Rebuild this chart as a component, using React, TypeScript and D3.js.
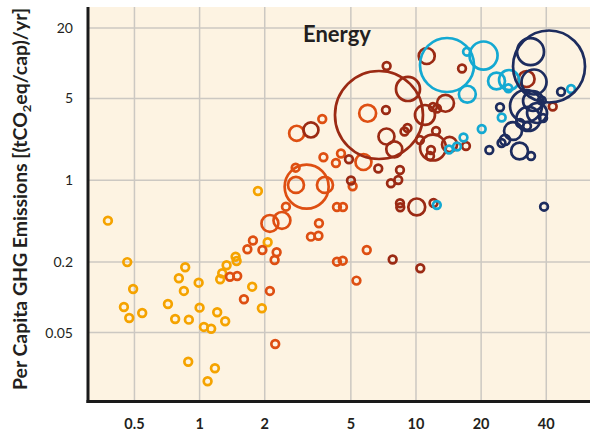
import React from "react";
import * as d3 from "d3";

// x: per-capita income-like axis (log), y: per capita GHG emissions (log)
const xTicks = [0.5, 1, 2, 5, 10, 20, 40];
const yTicks = [0.05, 0.2, 1, 5, 20];

const lowX = [0.377, 0.463, 0.493, 0.447, 0.473, 0.543, 0.714, 0.771, 0.802, 0.858, 0.846, 0.892, 0.886, 0.99, 1.0, 1.047, 1.131, 1.089, 1.177, 1.206, 1.313, 1.245, 1.272, 1.333, 1.467, 1.483, 1.75, 1.94, 2.063, 1.86];
const lowY = [0.452, 0.2, 0.118, 0.0828, 0.0667, 0.0736, 0.0878, 0.0654, 0.1456, 0.1807, 0.1135, 0.0645, 0.0282, 0.1335, 0.0817, 0.0559, 0.054, 0.0192, 0.0248, 0.0746, 0.0625, 0.1428, 0.1607, 0.188, 0.2226, 0.2046, 0.1234, 0.0807, 0.2955, 0.81];
const lowSize = [10, 10, 10, 10, 10, 10, 10, 10, 10, 10, 10, 10, 10, 10, 10, 10, 10, 10, 10, 10, 10, 10, 10, 10, 10, 10, 10, 10, 10, 10];

const lowerMidX = [3.124, 2.788, 3.796, 2.779, 2.506, 2.113, 2.402, 1.764, 1.663, 1.951, 2.27, 2.222, 1.381, 1.492, 1.603, 2.113, 2.236, 2.809, 3.688, 3.735, 4.266, 4.501, 5.718, 5.979, 5.097, 4.313, 4.598, 3.561, 3.27, 3.542, 5.922, 4.313, 4.588, 5.308];
const lowerMidY = [0.882, 0.912, 0.912, 1.281, 0.595, 0.428, 0.454, 0.306, 0.2575, 0.254, 0.2427, 0.2087, 0.15, 0.1523, 0.0963, 0.1135, 0.04, 2.52, 3.339, 1.572, 1.405, 1.694, 1.433, 3.734, 0.889, 0.5916, 0.5916, 0.4294, 0.33, 0.3357, 0.254, 0.2017, 0.2058, 0.139];
const lowerMidSize = [325, 43, 43, 10, 10, 48, 48, 10, 10, 10, 10, 10, 10, 10, 10, 10, 10, 38, 10, 10, 10, 10, 43, 48, 10, 10, 10, 10, 10, 10, 10, 10, 10, 10];

const upperMidX = [6.745, 7.318, 7.264, 3.27, 9.184, 11.0, 11.98, 12.5, 13.69, 7.303, 7.937, 8.849, 9.135, 10.43, 12.38, 11.98, 14.29, 17.02, 11.73, 6.694, 8.433, 7.661, 8.28, 4.9, 5.006, 8.433, 8.46, 10.08, 12.05, 7.803, 10.47, 11.21, 16.32, 32.43, 42.85, 11.61];
const upperMidY = [3.612, 9.465, 3.984, 2.689, 6.022, 3.612, 4.227, 4.104, 4.546, 2.366, 1.84, 2.61, 2.797, 2.209, 2.636, 1.905, 2.022, 1.963, 1.815, 1.261, 1.224, 0.943, 1.006, 1.511, 0.996, 0.636, 0.588, 0.5916, 0.64, 0.2107, 0.1772, 11.52, 9.01, 7.331, 4.268, 1.613];
const upperMidSize = [1300, 10, 10, 38, 97, 67, 10, 10, 48, 43, 43, 10, 10, 10, 10, 113, 38, 10, 10, 10, 10, 10, 10, 10, 10, 10, 10, 48, 10, 10, 10, 43, 10, 43, 10, 10];

const highAX = [13.91, 20.52, 17.21, 17.27, 23.56, 26.92, 26.72, 52.08, 24.9, 20.13, 16.58, 15.47, 14.21, 12.48];
const highAY = [9.652, 11.63, 12.54, 5.436, 7.047, 7.187, 6.106, 6.022, 3.438, 2.742, 2.32, 1.944, 1.832, 0.6153];
const highASize = [490, 132, 10, 48, 48, 67, 10, 10, 10, 10, 10, 10, 10, 10];

const highBX = [41.19, 33.83, 35.12, 46.81, 24.45, 32.25, 34.75, 36.26, 33.05, 38.12, 38.66, 28.08, 25.79, 24.85, 30.1, 34.02, 21.82, 39.07, 30.26, 32.6];
const highBY = [9.372, 12.54, 6.91, 5.709, 4.201, 4.31, 4.756, 3.755, 3.339, 4.803, 3.404, 2.636, 2.209, 2.082, 1.779, 1.613, 1.815, 0.595, 3.085, 2.909];
const highBSize = [870, 122, 105, 10, 10, 172, 67, 67, 97, 10, 10, 54, 17, 10, 48, 10, 10, 10, 10, 10];

const groupColors = ["#f5a300", "#de4f12", "#9b2a14", "#14a9d2", "#1d2c5e"];

const W = 590;
const H = 439;
const L = 88, R = 590, T = 7, B = 401.5;

export default function App() {
  const x = d3.scaleLog().domain([0.305, 63.7]).range([L, R]);
  const y = d3.scaleLog().domain([0.0129, 30.2]).range([B, T]);
  const r = d3.scaleSqrt().domain([0, 1300]).range([0, 44]);

  const groups = [
    { xs: lowX, ys: lowY, ss: lowSize, c: groupColors[0] },
    { xs: lowerMidX, ys: lowerMidY, ss: lowerMidSize, c: groupColors[1] },
    { xs: upperMidX, ys: upperMidY, ss: upperMidSize, c: groupColors[2] },
    { xs: highAX, ys: highAY, ss: highASize, c: groupColors[3] },
    { xs: highBX, ys: highBY, ss: highBSize, c: groupColors[4] },
  ];

  const font = "Lato, 'Open Sans', sans-serif";

  return (
    <svg width={W} height={H} style={{ position: "absolute", left: 0, top: 0, display: "block", background: "#fff" }}>
      <rect x={L} y={T} width={R - L} height={B - T} fill="#fdf3e2" />
      {xTicks.map((t) => (
        <line key={"gx" + t} x1={x(t)} x2={x(t)} y1={T} y2={B} stroke="#ccc8c2" strokeWidth={1.5} />
      ))}
      {yTicks.map((t) => (
        <line key={"gy" + t} x1={L} x2={R} y1={y(t)} y2={y(t)} stroke="#ccc8c2" strokeWidth={1.5} />
      ))}
      <clipPath id="plotclip">
        <rect x={L} y={T} width={R - L} height={B - T} />
      </clipPath>
      <g clipPath="url(#plotclip)">
        {groups.map((g, gi) =>
          g.xs.map((v, i) => (
            <circle
              key={gi + "-" + i}
              cx={x(v)}
              cy={y(g.ys[i])}
              r={r(g.ss[i])}
              fill="none"
              stroke={g.c}
              strokeWidth={2.7}
            />
          ))
        )}
      </g>
      <line x1={L} x2={L} y1={T} y2={B + 1.5} stroke="#1a1a1a" strokeWidth={3} />
      <line x1={L - 1.5} x2={R} y1={B} y2={B} stroke="#1a1a1a" strokeWidth={3} />
      {yTicks.map((t) => (
        <text key={"ty" + t} x={73} y={y(t) + 5} textAnchor="end" fontFamily={font} fontSize={14} fill="#231f20">
          {String(t)}
        </text>
      ))}
      {xTicks.map((t) => (
        <text key={"tx" + t} x={x(t)} y={429} textAnchor="middle" fontFamily={font} fontSize={14.5} fontWeight={700} fill="#231f20">
          {String(t)}
        </text>
      ))}
      <text x={303} y={41.5} fontFamily={font} fontSize={22} fontWeight={700} fill="#231f20">
        Energy
      </text>
      <text
        transform="translate(27,199) rotate(-90)"
        textAnchor="middle"
        fontFamily={font}
        fontSize={18}
        fontWeight={700}
        fill="#231f20"
        textLength={382}
        lengthAdjust="spacingAndGlyphs"
      >
        Per Capita GHG Emissions [(tCO
        <tspan dy={4} fontSize={12}>2</tspan>
        <tspan dy={-4}>eq/cap)/yr]</tspan>
      </text>
    </svg>
  );
}
